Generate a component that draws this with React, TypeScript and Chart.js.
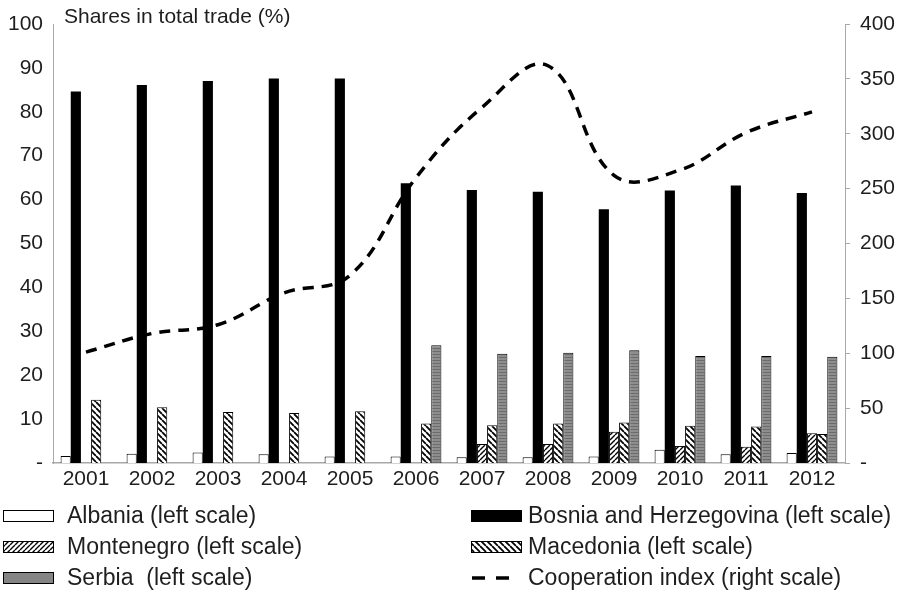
import React, { useEffect, useRef } from "react";
import { Chart, registerables } from "chart.js";

Chart.register(...registerables);

const years = ["2001", "2002", "2003", "2004", "2005", "2006", "2007", "2008", "2009", "2010", "2011", "2012"];
const albania = [1.6, 2.1, 2.4, 2.0, 1.5, 1.5, 1.3, 1.3, 1.5, 3.0, 2.0, 2.3];
const bosnia = [84.6, 86.1, 87.0, 87.6, 87.6, 63.7, 62.2, 61.8, 57.8, 62.1, 63.2, 61.5];
const montenegro = [null, null, null, null, null, null, 4.3, 4.3, 7.1, 3.9, 3.7, 6.8];
const macedonia = [14.4, 12.7, 11.6, 11.4, 11.8, 9.0, 8.6, 9.0, 9.2, 8.5, 8.3, 6.6];
const serbia = [null, null, null, null, null, 26.8, 24.9, 25.1, 25.7, 24.4, 24.4, 24.2];
const cooperation = [101, 118, 126, 155, 171, 260, 324, 362, 262, 267, 301, 320];

const leftMax = 100;
const leftStep = 10;
const rightMax = 400;
const rightStep = 50;

const titleText = "Shares in total trade (%)";
const legendLabels = [
  "Albania (left scale)",
  "Bosnia and Herzegovina (left scale)",
  "Montenegro (left scale)",
  "Macedonia (left scale)",
  "Serbia  (left scale)",
  "Cooperation index (right scale)",
];

const FONT = "'Liberation Sans', Arial, sans-serif";
const TEXT = "#1e1e1e";
const AXIS = "#a8a8a8";

function hatch(dir: number, size: number, lw: number): CanvasPattern | string {
  const c = document.createElement("canvas");
  c.width = size;
  c.height = size;
  const g = c.getContext("2d");
  if (!g) return "#fff";
  g.fillStyle = "#fff";
  g.fillRect(0, 0, size, size);
  g.strokeStyle = "#000";
  g.lineWidth = lw;
  g.beginPath();
  for (let k = -1; k <= 1; k++) {
    if (dir > 0) {
      g.moveTo(k * size, size);
      g.lineTo(k * size + size, 0);
    } else {
      g.moveTo(k * size, 0);
      g.lineTo(k * size + size, size);
    }
  }
  g.stroke();
  return g.createPattern(c, "repeat") || "#fff";
}

function greyLines(): CanvasPattern | string {
  const c = document.createElement("canvas");
  c.width = 4;
  c.height = 3;
  const g = c.getContext("2d");
  if (!g) return "#888";
  g.fillStyle = "#8e8e8e";
  g.fillRect(0, 0, 4, 3);
  g.fillStyle = "#6c6c6c";
  g.fillRect(0, 0, 4, 1);
  return g.createPattern(c, "repeat") || "#888";
}

export default function App() {
  const ref = useRef<HTMLCanvasElement | null>(null);

  useEffect(() => {
    const canvas = ref.current;
    if (!canvas) return;
    const montePat = hatch(1, 5, 1.4);
    const macePat = hatch(-1, 6, 1.8);
    const serbPat = greyLines();

    const swatches = [
      { fill: "#fff", border: true },
      { fill: "#000", border: false },
      { fill: montePat, border: true },
      { fill: macePat, border: true },
      { fill: "#858585", border: true },
      { dash: true },
    ];

    const overlay = {
      id: "overlay",
      afterDraw(chart: any) {
        const ctx = chart.ctx as CanvasRenderingContext2D;
        ctx.save();
        // title
        ctx.fillStyle = TEXT;
        ctx.font = `21px ${FONT}`;
        ctx.textAlign = "left";
        ctx.textBaseline = "middle";
        ctx.fillText(titleText, 64, 17);
        // legend
        ctx.font = `23px ${FONT}`;
        ctx.textBaseline = "alphabetic";
        const rowsY = [510, 541, 572];
        const colX = [3, 471];
        const textX = [67, 528];
        legendLabels.forEach((label, i) => {
          const col = i % 2;
          const row = Math.floor(i / 2);
          const x = colX[col];
          const y = rowsY[row];
          const s: any = swatches[i];
          if (s.dash) {
            ctx.strokeStyle = "#000";
            ctx.lineWidth = 3.5;
            ctx.setLineDash([13, 11]);
            ctx.beginPath();
            ctx.moveTo(x + 1, y + 6);
            ctx.lineTo(x + 40, y + 6);
            ctx.stroke();
            ctx.setLineDash([]);
          } else {
            ctx.fillStyle = s.fill;
            ctx.fillRect(x, y, 51, 12);
            if (s.border) {
              ctx.strokeStyle = "#000";
              ctx.lineWidth = 1;
              ctx.strokeRect(x + 0.5, y + 0.5, 50, 11);
            }
          }
          ctx.fillStyle = TEXT;
          ctx.fillText(label, textX[col], y + 13);
        });
        ctx.restore();
      },
    };

    const tickFont = { family: FONT, size: 21 };

    const chart = new Chart(canvas, {
      type: "bar",
      data: {
        labels: years,
        datasets: [
          { type: "bar", label: legendLabels[0], data: albania, backgroundColor: "#fff", borderColor: "#000", borderWidth: 1, yAxisID: "y", order: 1 },
          { type: "bar", label: legendLabels[1], data: bosnia, backgroundColor: "#000", borderWidth: 0, yAxisID: "y", order: 1 },
          { type: "bar", label: legendLabels[2], data: montenegro as any, backgroundColor: montePat as any, borderColor: "#000", borderWidth: 1, yAxisID: "y", order: 1 },
          { type: "bar", label: legendLabels[3], data: macedonia, backgroundColor: macePat as any, borderColor: "#000", borderWidth: 1, yAxisID: "y", order: 1 },
          { type: "bar", label: legendLabels[4], data: serbia as any, backgroundColor: serbPat as any, borderColor: "#000", borderWidth: 1, yAxisID: "y", order: 1 },
          {
            type: "line",
            label: legendLabels[5],
            data: cooperation,
            borderColor: "#000",
            borderWidth: 3.5,
            borderDash: [11, 8],
            pointRadius: 0,
            tension: 0.4,
            fill: false,
            yAxisID: "y1",
            order: 0,
          },
        ] as any,
      },
      options: {
        responsive: false,
        animation: false,
        devicePixelRatio: 1,
        layout: { padding: { top: 24, left: 0, right: 0, bottom: 0 } },
        datasets: { bar: { categoryPercentage: 0.77, barPercentage: 1 } },
        plugins: { legend: { display: false }, tooltip: { enabled: false }, title: { display: false } },
        scales: {
          x: {
            grid: { display: false, drawTicks: false },
            border: { display: true, color: AXIS, width: 1.5 },
            ticks: { color: TEXT, font: tickFont, padding: 4, maxRotation: 0 },
            afterFit: (s: any) => { s.height = 132; },
          },
          y: {
            position: "left",
            min: 0,
            max: leftMax,
            grid: { display: false, drawTicks: false },
            border: { display: true, color: AXIS, width: 1 },
            ticks: {
              stepSize: leftStep,
              color: TEXT,
              font: tickFont,
              padding: 10,
              callback: (v: any) => (Number(v) === 0 ? "-" : String(v)),
            },
            afterFit: (s: any) => { s.width = 53; },
          },
          y1: {
            position: "right",
            min: 0,
            max: rightMax,
            grid: { display: true, drawOnChartArea: false, drawTicks: true, tickLength: 5, color: AXIS },
            border: { display: true, color: AXIS, width: 1 },
            ticks: {
              stepSize: rightStep,
              color: TEXT,
              font: tickFont,
              padding: 10,
              callback: (v: any) => (Number(v) === 0 ? "-" : String(v)),
            },
            afterFit: (s: any) => { s.width = 62; },
          },
        },
      } as any,
      plugins: [overlay],
    });
    return () => chart.destroy();
  }, []);

  return (
    <div style={{ position: "absolute", left: 0, top: 0, width: 907, height: 595, background: "#fff" }}>
      <canvas ref={ref} width={907} height={595} style={{ display: "block", width: 907, height: 595 }} />
    </div>
  );
}
